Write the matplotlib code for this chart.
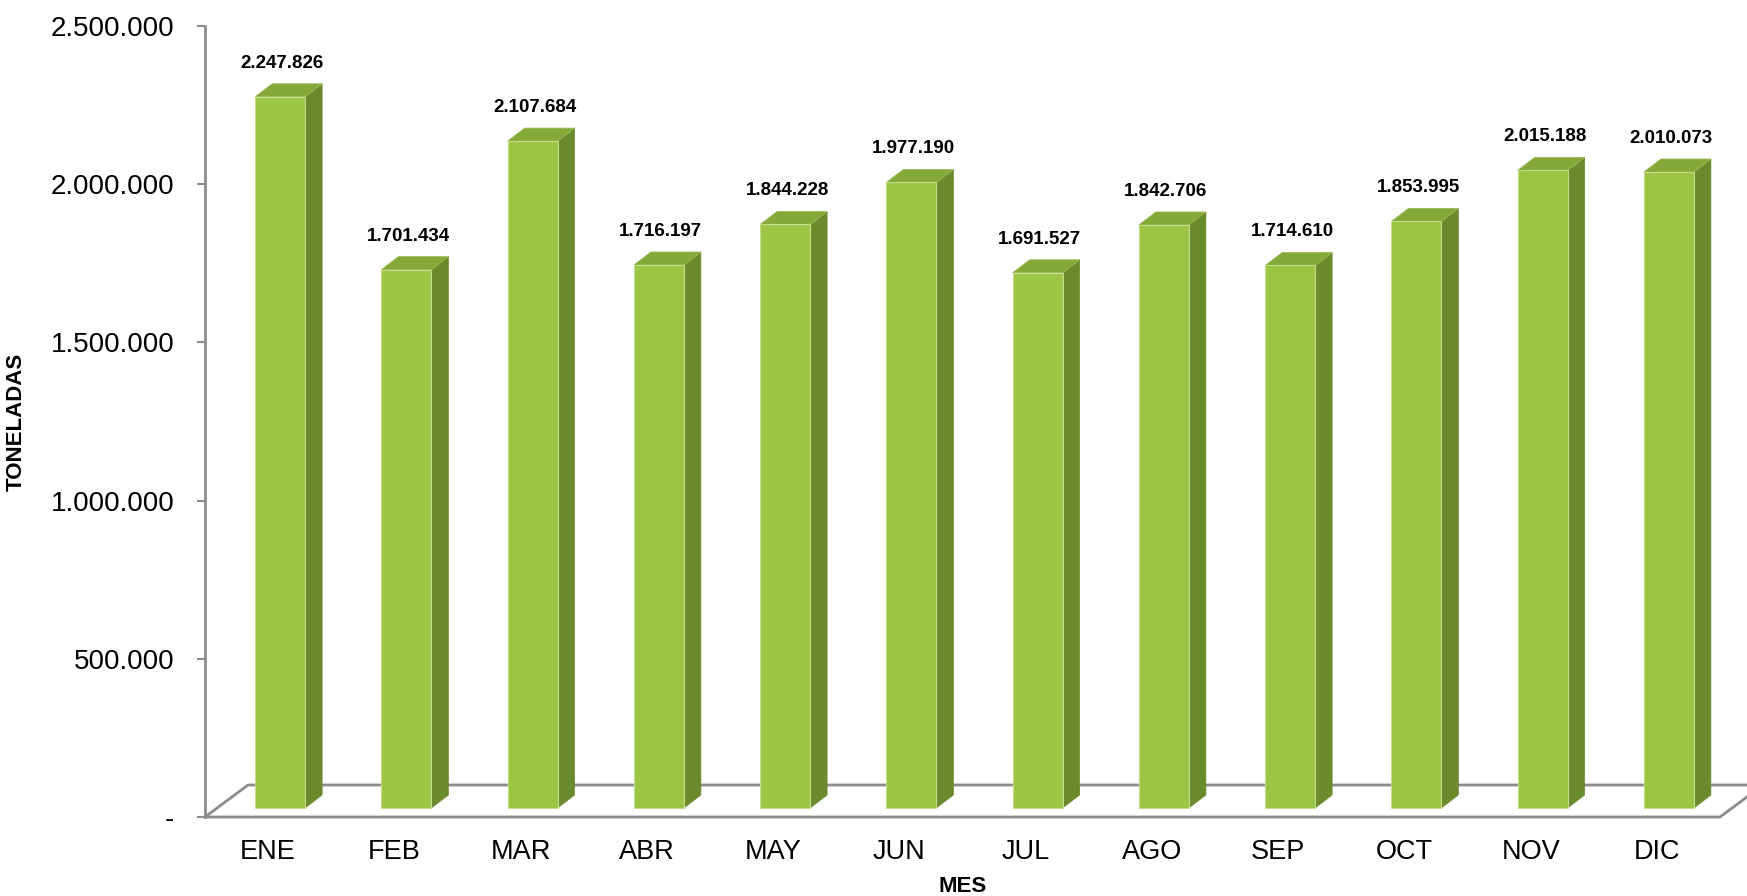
import matplotlib.pyplot as plt
from matplotlib.patches import Polygon
from matplotlib.ticker import FuncFormatter

plt.rcParams['font.family'] = ['Liberation Sans', 'DejaVu Sans']

# Data
meses = ['ENE', 'FEB', 'MAR', 'ABR', 'MAY', 'JUN', 'JUL', 'AGO', 'SEP', 'OCT', 'NOV', 'DIC']
toneladas = [2247826, 1701434, 2107684, 1716197, 1844228, 1977190,
             1691527, 1842706, 1714610, 1853995, 2015188, 2010073]


def miles(v):
    return f'{v:,.0f}'.replace(',', '.')


W, H = 1747, 896
fig = plt.figure(figsize=(W / 100, H / 100), dpi=100)
x0, x1, y0, y1 = 205, 1720, 817, 26  # axes box in pixels
ax = fig.add_axes([x0 / W, 1 - y0 / H, (x1 - x0) / W, (y0 - y1) / H])

ymax = 2500000
ax.set_xlim(-0.5, len(meses) - 0.5)
ax.set_ylim(0, ymax)

# pixel -> data units
ux = len(meses) / (x1 - x0)
uy = ymax / (y0 - y1)

# 3D-look offsets (pixels)
floor_dx, floor_dy = 43, 32
front_dx, front_dy = 12, 9
side_dx, side_dy = 17, 13
bar_w = 50 * ux

c_front = '#9dc544'
c_side = '#6a8a2c'
c_top = '#84a936'
c_line = '#8c8c8c'

# floor
fx, fy = floor_dx * ux, floor_dy * uy
xl, xr = -0.5, len(meses) - 0.5
ax.plot([xl, xl + fx, xr + fx + 0.3], [0, fy, fy], color=c_line, lw=2, clip_on=False, zorder=1)
ax.plot([xl, xr, xr + fx], [0, 0, fy], color=c_line, lw=2, clip_on=False, zorder=1)

b0 = front_dy * uy
sx, sy = side_dx * ux, side_dy * uy
for i, v in enumerate(toneladas):
    xc = i + front_dx * ux
    l, r = xc - bar_w / 2, xc + bar_w / 2
    top = b0 + v
    ax.bar(xc, v, width=bar_w, bottom=b0, color=c_front, edgecolor='#c4dc8c', lw=0.8, zorder=3)
    ax.add_patch(Polygon([(r, b0), (r, top), (r + sx, top + sy), (r + sx, b0 + sy)],
                         closed=True, facecolor=c_side, edgecolor=c_side, lw=0.5, zorder=2))
    ax.add_patch(Polygon([(l, top), (r, top), (r + sx, top + sy), (l + sx, top + sy)],
                         closed=True, facecolor=c_top, edgecolor='#9dbb5a', lw=0.6, zorder=2))
    ax.text(xc + 2 * ux, top + sy + 12 * uy, miles(v), ha='center', va='bottom',
            fontsize=13.5, fontweight='bold', zorder=4)

# axes styling
for s in ['top', 'right', 'bottom']:
    ax.spines[s].set_visible(False)
ax.spines['left'].set_color(c_line)
ax.spines['left'].set_linewidth(2)

ax.set_yticks(range(0, ymax + 1, 500000))
ax.yaxis.set_major_formatter(FuncFormatter(lambda v, p: '-' if v == 0 else miles(v)))
ax.tick_params(axis='y', length=6, width=1.5, color=c_line, labelsize=20, pad=16)
ax.set_xticks(range(len(meses)))
ax.set_xticklabels(meses)
ax.tick_params(axis='x', length=0, labelsize=19.5, pad=15.5)

ax.set_xlabel('MES', fontsize=16, fontweight='bold', labelpad=8)
ax.set_ylabel('TONELADAS', fontsize=16, fontweight='bold')
ax.yaxis.set_label_coords(-(x0 - 27) / (x1 - x0), 0.5)

fig.savefig('out.png', dpi=100)
